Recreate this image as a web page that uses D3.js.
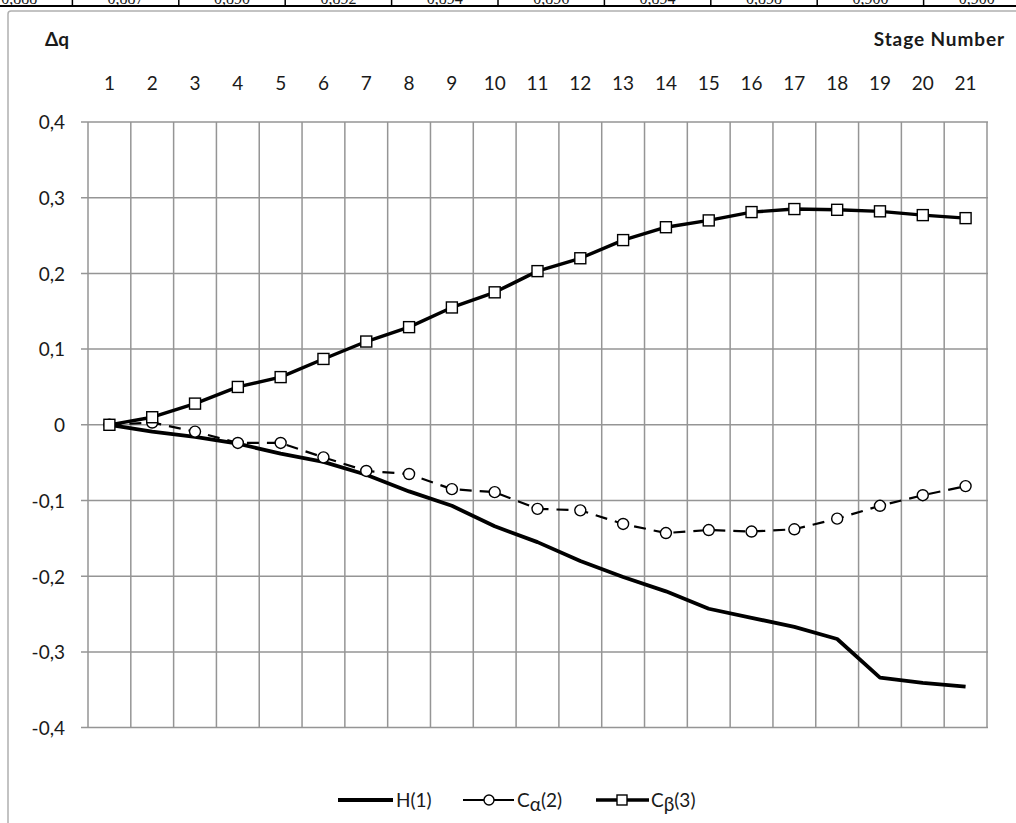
<!DOCTYPE html>
<html>
<head>
<meta charset="utf-8">
<script src="https://cdn.jsdelivr.net/npm/d3@7"></script>
<style>
  html, body { margin: 0; padding: 0; background: #fff; }
  svg { display: block; }
  text { font-family: Lato, "Open Sans", "DejaVu Sans", sans-serif; fill: #1a1a1a; }
</style>
</head>
<body>
<svg id="chart" width="1016" height="823"></svg>
<script>
// ---- data ----
const categories = ["1","2","3","4","5","6","7","8","9","10","11","12","13","14","15","16","17","18","19","20","21"];
const seriesH  = [0, -0.009, -0.016, -0.025, -0.038, -0.049, -0.066, -0.088, -0.107, -0.134, -0.155, -0.180, -0.201, -0.220, -0.243, -0.255, -0.267, -0.283, -0.334, -0.341, -0.346];
const seriesCa = [0, 0.003, -0.009, -0.024, -0.024, -0.043, -0.061, -0.065, -0.085, -0.089, -0.111, -0.113, -0.131, -0.143, -0.139, -0.141, -0.138, -0.124, -0.107, -0.093, -0.081];
const seriesCb = [0, 0.010, 0.028, 0.050, 0.063, 0.087, 0.110, 0.129, 0.155, 0.175, 0.203, 0.220, 0.244, 0.261, 0.270, 0.281, 0.285, 0.284, 0.282, 0.277, 0.273];
const yTicks = [-0.4, -0.3, -0.2, -0.1, 0, 0.1, 0.2, 0.3, 0.4];
const tableRow = ["0,888","0,887","0,890","0,892","0,894","0,896","0,894","0,898","0,900","0,900"];

const svg = d3.select("#chart");

// ---- table fragment at the very top (cut off, as in the reference) ----
const tableX = d3.scaleLinear().domain([0, 10]).range([-34, 1030]);
const tg = svg.append("g");
tg.append("defs").append("clipPath").attr("id", "tclip")
  .append("rect").attr("x", 0).attr("y", 0).attr("width", 1016).attr("height", 5);
const tt = tg.append("g").attr("clip-path", "url(#tclip)");
tt.selectAll("text").data(tableRow).join("text")
  .attr("x", (d, i) => (tableX(i) + tableX(i + 1)) / 2)
  .attr("y", 3.5)
  .attr("text-anchor", "middle")
  .style("font-family", "'Liberation Serif', serif")
  .style("font-size", "16px")
  .text(d => d);
tg.selectAll("line.sep").data(d3.range(1, 10)).join("line")
  .attr("class", "sep")
  .attr("x1", d => tableX(d)).attr("x2", d => tableX(d))
  .attr("y1", 0).attr("y2", 6)
  .attr("stroke", "#000").attr("stroke-width", 1.5);
tg.append("line").attr("x1", 0).attr("x2", 1016).attr("y1", 6).attr("y2", 6)
  .attr("stroke", "#000").attr("stroke-width", 2);

// ---- chart frame ----
svg.append("rect").attr("x", 8).attr("y", 11).attr("width", 1030).attr("height", 840)
  .attr("rx", 3).attr("fill", "#fff").attr("stroke", "#b0b0b0").attr("stroke-width", 1.5);

// ---- scales ----
const x = d3.scaleBand().domain(categories).range([88, 987]).padding(0);
const y = d3.scaleLinear().domain([-0.4, 0.4]).range([727.6, 122]);

const loc = d3.formatLocale({decimal: ",", thousands: " ", grouping: [3], currency: ["", ""], minus: "-"});
const fmt = loc.format(".1f");
const yFmt = v => (Math.abs(v) < 1e-9 ? "0" : fmt(v));

// ---- gridlines ----
const grid = svg.append("g");
grid.selectAll("line.h").data(yTicks).join("line")
  .attr("class", "h")
  .attr("x1", 81).attr("x2", 988)
  .attr("y1", d => y(d)).attr("y2", d => y(d))
  .attr("stroke", "#959595").attr("stroke-width", 1.5);
const edges = categories.map(c => x(c)).concat([x.range()[1]]);
grid.selectAll("line.v").data(edges).join("line")
  .attr("class", "v")
  .attr("x1", d => d).attr("x2", d => d)
  .attr("y1", y(0.4)).attr("y2", y(-0.4))
  .attr("stroke", "#959595").attr("stroke-width", 1.5);

// ---- axes (labels via d3 axes) ----
const yAxis = d3.axisLeft(y).tickValues(yTicks).tickFormat(yFmt).tickSize(0).tickPadding(0);
const gy = svg.append("g").attr("transform", "translate(65,0)").call(yAxis);
gy.select(".domain").remove();
gy.selectAll("text").style("font-size", "19px").attr("fill", "#1a1a1a").attr("dy", "0.36em");

const xAxis = d3.axisTop(x).tickSize(0).tickPadding(0);
const gx = svg.append("g").attr("transform", "translate(0,90)").call(xAxis);
gx.select(".domain").remove();
gx.selectAll("text").style("font-size", "19px").attr("fill", "#1a1a1a");

// ---- axis titles ----
svg.append("text").attr("x", 45).attr("y", 46).style("font-size", "19px").style("font-weight", "bold").text("Δq");
svg.append("text").attr("x", 1005).attr("y", 46).attr("text-anchor", "end")
  .style("font-size", "19px").style("font-weight", "bold").style("letter-spacing", "0.9px").text("Stage Number");

// ---- series ----
const line = d3.line().x((d, i) => x(categories[i]) + x.bandwidth() / 2).y(d => y(d));
const cx = i => x(categories[i]) + x.bandwidth() / 2;

svg.append("path").datum(seriesH).attr("d", line)
  .attr("fill", "none").attr("stroke", "#000").attr("stroke-width", 3.8).attr("stroke-linejoin", "round");

svg.append("path").datum(seriesCa).attr("d", line)
  .attr("fill", "none").attr("stroke", "#000").attr("stroke-width", 2.2).attr("stroke-dasharray", "12,8");
svg.append("g").selectAll("circle").data(seriesCa).join("circle")
  .attr("cx", (d, i) => cx(i)).attr("cy", d => y(d)).attr("r", 5.5)
  .attr("fill", "#fff").attr("stroke", "#000").attr("stroke-width", 1.4);

svg.append("path").datum(seriesCb).attr("d", line)
  .attr("fill", "none").attr("stroke", "#000").attr("stroke-width", 3.4).attr("stroke-linejoin", "round");
svg.append("g").selectAll("rect").data(seriesCb).join("rect")
  .attr("x", (d, i) => cx(i) - 5.5).attr("y", d => y(d) - 5.5).attr("width", 11).attr("height", 11)
  .attr("fill", "#fff").attr("stroke", "#000").attr("stroke-width", 1.4);

// ---- legend ----
const lg = svg.append("g");
const ly = 800;
lg.append("line").attr("x1", 338).attr("x2", 393).attr("y1", ly).attr("y2", ly).attr("stroke", "#000").attr("stroke-width", 3.8);
lg.append("text").attr("x", 396).attr("y", ly + 7).style("font-size", "19px").text("H(1)");

lg.append("line").attr("x1", 463).attr("x2", 514).attr("y1", ly).attr("y2", ly).attr("stroke", "#000").attr("stroke-width", 2.2);
lg.append("circle").attr("cx", 489).attr("cy", ly).attr("r", 5).attr("fill", "#fff").attr("stroke", "#000").attr("stroke-width", 1.4);
const t2 = lg.append("text").attr("x", 517).attr("y", ly + 7).style("font-size", "19px");
t2.append("tspan").text("C");
t2.append("tspan").attr("dy", 4).text("α");
t2.append("tspan").attr("dy", -4).text("(2)");

lg.append("line").attr("x1", 596).attr("x2", 649).attr("y1", ly).attr("y2", ly).attr("stroke", "#000").attr("stroke-width", 3.4);
lg.append("rect").attr("x", 617).attr("y", ly - 5).attr("width", 10).attr("height", 10).attr("fill", "#fff").attr("stroke", "#000").attr("stroke-width", 1.4);
const t3 = lg.append("text").attr("x", 651).attr("y", ly + 7).style("font-size", "19px");
t3.append("tspan").text("C");
t3.append("tspan").attr("dy", 4).text("β");
t3.append("tspan").attr("dy", -4).text("(3)");
</script>
</body>
</html>
